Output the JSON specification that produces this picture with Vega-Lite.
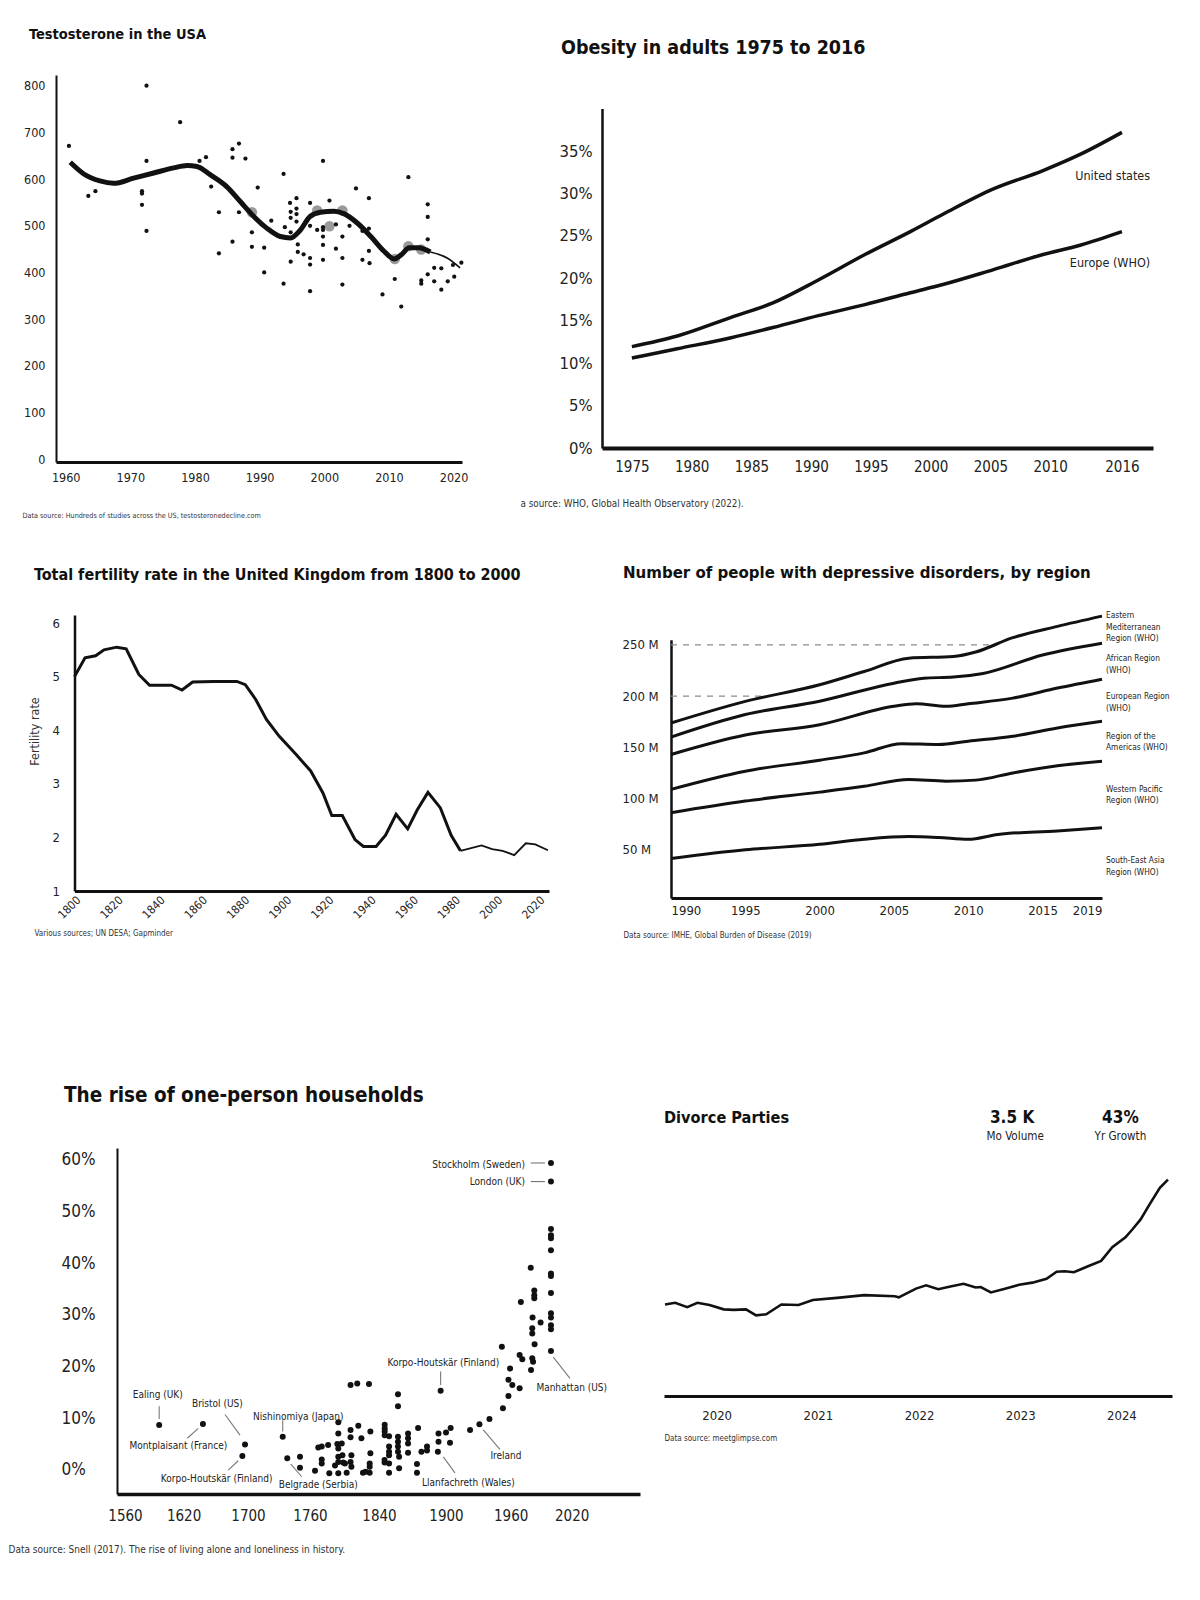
{
"$schema": "https://vega.github.io/schema/vega-lite/v6.json",
"padding": 0,
"background": "white",
"spacing": 0,
"bounds": "flush",
"align": "none",
"columns": 2,
"config": {
  "font": "Liberation Sans Narrow, DejaVu Sans Condensed, Roboto, sans-serif",
  "view": {"stroke": null},
  "axis": {"ticks": false, "grid": false, "domainColor": "#111", "labelColor": "#222", "labelFlush": false, "titleColor": "#333", "titleFontWeight": "normal"},
  "title": {"anchor": "start", "frame": "group", "fontWeight": "bold", "color": "#111"},
  "text": {"color": "#222"}
},
"datasets": {
  "t_pts": [
    {"x":1960.5,"y":671},{"x":1972.5,"y":800},{"x":1977.7,"y":722},{"x":1963.5,"y":564},{"x":1964.6,"y":574},{"x":1971.8,"y":574},{"x":1971.8,"y":569},{"x":1971.8,"y":545},{"x":1972.5,"y":489},{"x":1972.5,"y":639},{"x":1980.7,"y":639},{"x":1981.7,"y":647},{"x":1982.5,"y":584},{"x":1983.7,"y":529},{"x":1983.7,"y":441},{"x":1985.8,"y":664},{"x":1985.8,"y":646},{"x":1986.8,"y":676},{"x":1987.8,"y":644},{"x":1986.8,"y":529},{"x":1985.8,"y":466},{"x":1988.8,"y":486},{"x":1988.8,"y":455},{"x":1989.7,"y":582},{"x":1990.7,"y":453},{"x":1990.7,"y":400},{"x":1991.8,"y":511},{"x":1993.7,"y":611},{"x":1993.9,"y":497},{"x":1993.7,"y":376},{"x":1994.7,"y":549},{"x":1994.8,"y":530},{"x":1994.8,"y":517},{"x":1994.8,"y":486},{"x":1994.8,"y":423},{"x":1995.7,"y":559},{"x":1995.7,"y":537},{"x":1995.7,"y":525},{"x":1995.7,"y":509},{"x":1995.9,"y":460},{"x":1995.9,"y":444},{"x":1996.8,"y":439},{"x":1997.8,"y":549},{"x":1997.8,"y":500},{"x":1997.8,"y":431},{"x":1997.8,"y":417},{"x":1997.8,"y":360},{"x":1998.9,"y":491},{"x":1999.8,"y":639},{"x":1999.8,"y":497},{"x":1999.8,"y":491},{"x":1999.8,"y":477},{"x":1999.8,"y":459},{"x":1999.8,"y":427},{"x":2000.8,"y":554},{"x":2001.8,"y":503},{"x":2001.8,"y":451},{"x":2002.8,"y":477},{"x":2002.8,"y":431},{"x":2002.8,"y":374},{"x":2003.9,"y":500},{"x":2004.9,"y":580},{"x":2005.9,"y":489},{"x":2005.9,"y":427},{"x":2006.9,"y":559},{"x":2006.9,"y":494},{"x":2006.9,"y":446},{"x":2007.0,"y":420},{"x":2009.0,"y":353},{"x":2010.9,"y":386},{"x":2011.9,"y":327},{"x":2013.0,"y":604},{"x":2015.0,"y":383},{"x":2015.0,"y":376},{"x":2016.0,"y":546},{"x":2016.0,"y":519},{"x":2016.0,"y":471},{"x":2016.0,"y":396},{"x":2017.0,"y":410},{"x":2017.0,"y":381},{"x":2018.1,"y":409},{"x":2018.1,"y":363},{"x":2019.1,"y":381},{"x":2019.9,"y":416},{"x":2020.1,"y":391},{"x":2021.2,"y":421}
  ],
  "t_big": [
    {"x":1988.8,"y":529},{"x":1998.9,"y":533},{"x":2000.8,"y":499},{"x":2002.8,"y":533},{"x":2010.9,"y":429},{"x":2013.0,"y":456},{"x":2015.0,"y":449}
  ],
  "t_line": [
    {"x":1960.7,"y":636},{"x":1962.8,"y":611},{"x":1965.3,"y":596},{"x":1967.4,"y":591},{"x":1970.5,"y":602},{"x":1973.6,"y":613},{"x":1976.7,"y":624},{"x":1978.8,"y":629},{"x":1980.3,"y":627},{"x":1982.4,"y":609},{"x":1984.9,"y":584},{"x":1987.0,"y":552},{"x":1989.1,"y":520},{"x":1991.1,"y":495},{"x":1993.2,"y":477},{"x":1994.8,"y":474},{"x":1996.3,"y":491},{"x":1997.8,"y":520},{"x":1999.4,"y":529},{"x":2001.5,"y":531},{"x":2003.0,"y":526},{"x":2005.1,"y":506},{"x":2007.2,"y":477},{"x":2009.2,"y":446},{"x":2010.8,"y":429},{"x":2012.0,"y":439},{"x":2013.1,"y":453},{"x":2014.6,"y":453},{"x":2016.4,"y":444}
  ],
  "t_tail": [
    {"x":2016.4,"y":444},{"x":2019.0,"y":431},{"x":2021.0,"y":410}
  ],
  "o_grid": [{"y":5},{"y":10},{"y":15},{"y":20},{"y":25},{"y":30},{"y":35}],
  "o_lines": [
    {"s":"United states","x":1975,"y":11.95},{"s":"United states","x":1978.8,"y":13.2},{"s":"United states","x":1983.3,"y":15.4},{"s":"United states","x":1986.8,"y":17.1},{"s":"United states","x":1990.6,"y":19.8},{"s":"United states","x":1994.5,"y":22.8},{"s":"United states","x":1998.3,"y":25.5},{"s":"United states","x":2001.1,"y":27.6},{"s":"United states","x":2005.2,"y":30.5},{"s":"United states","x":2009.4,"y":32.7},{"s":"United states","x":2012.5,"y":34.6},{"s":"United states","x":2016,"y":37.2},
    {"s":"Europe (WHO)","x":1975,"y":10.6},{"s":"Europe (WHO)","x":1978.8,"y":11.7},{"s":"Europe (WHO)","x":1983.3,"y":13.0},{"s":"Europe (WHO)","x":1986.8,"y":14.2},{"s":"Europe (WHO)","x":1990.6,"y":15.6},{"s":"Europe (WHO)","x":1994.5,"y":16.9},{"s":"Europe (WHO)","x":1998.3,"y":18.3},{"s":"Europe (WHO)","x":2001.1,"y":19.3},{"s":"Europe (WHO)","x":2005.2,"y":21.0},{"s":"Europe (WHO)","x":2009.4,"y":22.8},{"s":"Europe (WHO)","x":2012.5,"y":23.9},{"s":"Europe (WHO)","x":2016,"y":25.5}
  ],
  "o_labels": [{"t":"United states","x":2018.36,"y":32.0},{"t":"Europe (WHO)","x":2018.36,"y":21.8}],
  "f_grid": [{"y":2},{"y":3},{"y":4},{"y":5},{"y":6}],
  "f_main": [
    {"x":1800,"y":5.0},{"x":1805,"y":5.35},{"x":1810,"y":5.39},{"x":1814,"y":5.5},{"x":1820,"y":5.55},{"x":1824.5,"y":5.52},{"x":1830.5,"y":5.04},{"x":1835.6,"y":4.84},{"x":1846,"y":4.84},{"x":1851,"y":4.75},{"x":1856,"y":4.9},{"x":1866,"y":4.91},{"x":1877,"y":4.91},{"x":1881,"y":4.85},{"x":1886,"y":4.57},{"x":1891,"y":4.2},{"x":1897,"y":3.89},{"x":1905,"y":3.55},{"x":1912,"y":3.24},{"x":1917.8,"y":2.83},{"x":1922,"y":2.41},{"x":1927,"y":2.41},{"x":1933,"y":1.96},{"x":1937,"y":1.83},{"x":1943,"y":1.83},{"x":1947.5,"y":2.04},{"x":1952.5,"y":2.43},{"x":1958,"y":2.16},{"x":1962.5,"y":2.51},{"x":1967.6,"y":2.84},{"x":1973.5,"y":2.55},{"x":1978.6,"y":2.04},{"x":1983,"y":1.75}
  ],
  "f_tail": [
    {"x":1983,"y":1.75},{"x":1993,"y":1.85},{"x":1998,"y":1.78},{"x":2003,"y":1.75},{"x":2008.5,"y":1.67},{"x":2014,"y":1.89},{"x":2018.5,"y":1.87},{"x":2024.5,"y":1.76}
  ],
  "d_grid": [{"y":200,"x":1990,"x2":1996.3},{"y":250,"x":1990,"x2":2011.7}],
  "d_lines": [
    {"r":"EMR","x":1990,"y":173.7},{"r":"EMR","x":1995,"y":194.8},{"r":"EMR","x":2000,"y":211},{"r":"EMR","x":2003,"y":224},{"r":"EMR","x":2006,"y":237},{"r":"EMR","x":2009,"y":238.6},{"r":"EMR","x":2010.5,"y":243},{"r":"EMR","x":2013,"y":257},{"r":"EMR","x":2016,"y":268},{"r":"EMR","x":2019,"y":278},
    {"r":"AFR","x":1990,"y":160},{"r":"AFR","x":1995,"y":182},{"r":"AFR","x":2000,"y":195},{"r":"AFR","x":2005,"y":212.6},{"r":"AFR","x":2007,"y":217.5},{"r":"AFR","x":2009,"y":218.5},{"r":"AFR","x":2011,"y":222},{"r":"AFR","x":2015,"y":240},{"r":"AFR","x":2019,"y":251.5},
    {"r":"EUR","x":1990,"y":143},{"r":"EUR","x":1995,"y":162},{"r":"EUR","x":2000,"y":172},{"r":"EUR","x":2005,"y":190},{"r":"EUR","x":2006.5,"y":192.5},{"r":"EUR","x":2008.5,"y":190},{"r":"EUR","x":2010,"y":192.5},{"r":"EUR","x":2013,"y":198},{"r":"EUR","x":2016,"y":207.8},{"r":"EUR","x":2019,"y":216.5},
    {"r":"AMR","x":1990,"y":109},{"r":"AMR","x":1995,"y":126.7},{"r":"AMR","x":2000,"y":137.4},{"r":"AMR","x":2003,"y":144.6},{"r":"AMR","x":2005.5,"y":153.6},{"r":"AMR","x":2008,"y":152.7},{"r":"AMR","x":2010,"y":156},{"r":"AMR","x":2013,"y":160.8},{"r":"AMR","x":2016,"y":168.9},{"r":"AMR","x":2019,"y":175.4},
    {"r":"WPR","x":1990,"y":86.2},{"r":"WPR","x":1995,"y":97.6},{"r":"WPR","x":2000,"y":106.3},{"r":"WPR","x":2003,"y":112},{"r":"WPR","x":2006,"y":118.6},{"r":"WPR","x":2008.5,"y":117},{"r":"WPR","x":2010.5,"y":118},{"r":"WPR","x":2013,"y":125},{"r":"WPR","x":2016,"y":132},{"r":"WPR","x":2019,"y":136.5},
    {"r":"SEAR","x":1990,"y":41.5},{"r":"SEAR","x":1995,"y":50},{"r":"SEAR","x":2000,"y":55.4},{"r":"SEAR","x":2003,"y":60.3},{"r":"SEAR","x":2006,"y":62.9},{"r":"SEAR","x":2008,"y":62},{"r":"SEAR","x":2010,"y":60.3},{"r":"SEAR","x":2012,"y":65},{"r":"SEAR","x":2016,"y":68.4},{"r":"SEAR","x":2019,"y":71.6}
  ],
  "d_labels": [
    {"t":"Eastern\nMediterranean\nRegion (WHO)","x":2019,"y":278},
    {"t":"African Region\n(WHO)","x":2019,"y":236},
    {"t":"European Region\n(WHO)","x":2019,"y":199},
    {"t":"Region of the\nAmericas (WHO)","x":2019,"y":160.5},
    {"t":"Western Pacific\nRegion (WHO)","x":2019,"y":108.7},
    {"t":"South-East Asia\nRegion (WHO)","x":2019,"y":39}
  ],
  "h_pts": [
    {"x":1595,"y":8.66},{"x":1644,"y":8.85},{"x":1696.3,"y":4.9},{"x":1693,"y":2.65},{"x":1733.6,"y":6.4},{"x":1738,"y":2.2},{"x":1750.3,"y":2.5},{"x":1750.3,"y":0.4},{"x":1765.8,"y":-0.2},{"x":1769.6,"y":4.3},{"x":1773.6,"y":4.5},{"x":1781,"y":4.8},{"x":1773.6,"y":2.0},{"x":1773.6,"y":1.2},{"x":1782.4,"y":-0.7},{"x":1792.8,"y":9.2},{"x":1792.8,"y":7.0},{"x":1791.7,"y":5.0},{"x":1796.8,"y":5.1},{"x":1792.8,"y":4.1},{"x":1792.8,"y":2.5},{"x":1792.8,"y":1.5},{"x":1789,"y":0.8},{"x":1800.5,"y":1.2},{"x":1792.8,"y":-0.7},{"x":1802.5,"y":-0.6},{"x":1807,"y":16.4},{"x":1814.8,"y":16.7},{"x":1828.4,"y":16.6},{"x":1807,"y":7.7},{"x":1807,"y":6.3},{"x":1807,"y":1.5},{"x":1816,"y":8.5},{"x":1797.6,"y":2.8},{"x":1798.5,"y":1.4},{"x":1808,"y":2.8},{"x":1808,"y":0.6},{"x":1819.6,"y":6.1},{"x":1821.4,"y":-0.6},{"x":1824.6,"y":-0.4},{"x":1829.2,"y":-0.6},{"x":1829.2,"y":1.2},{"x":1829.2,"y":0.6},{"x":1830,"y":7.4},{"x":1830,"y":3.2},{"x":1845.1,"y":8.7},{"x":1845.1,"y":8.0},{"x":1845.1,"y":7.4},{"x":1845.1,"y":6.7},{"x":1849,"y":6.5},{"x":1849,"y":4.5},{"x":1849,"y":3.5},{"x":1849,"y":2.8},{"x":1845,"y":1.9},{"x":1845,"y":1.4},{"x":1849,"y":1.2},{"x":1849,"y":-0.6},{"x":1857,"y":14.6},{"x":1857,"y":12.3},{"x":1857,"y":6.4},{"x":1857,"y":5.4},{"x":1857,"y":4.5},{"x":1857,"y":3.5},{"x":1858,"y":2.5},{"x":1858,"y":0.3},{"x":1866,"y":7.0},{"x":1866,"y":6.1},{"x":1866,"y":5.1},{"x":1866,"y":3.3},{"x":1875,"y":8.1},{"x":1874,"y":1.1},{"x":1874,"y":-0.6},{"x":1878,"y":3.5},{"x":1883,"y":4.5},{"x":1883,"y":3.7},{"x":1893.3,"y":7.0},{"x":1893.3,"y":5.4},{"x":1892.7,"y":3.5},{"x":1895.2,"y":15.3},{"x":1900,"y":7.2},{"x":1904.3,"y":8.1},{"x":1903.7,"y":5.2},{"x":1922.3,"y":7.7},{"x":1931,"y":8.8},{"x":1940.3,"y":9.8},{"x":1952.8,"y":11.9},{"x":1951.8,"y":23.8},{"x":1957.9,"y":14.3},{"x":1959.4,"y":19.6},{"x":1957.9,"y":17.4},{"x":1961.6,"y":16.4},{"x":1968.8,"y":15.8},{"x":1968.8,"y":22.2},{"x":1971.4,"y":21.4},{"x":1970,"y":32.5},{"x":1979.7,"y":39.1},{"x":1980,"y":19.3},{"x":1981.5,"y":29.5},{"x":1981.2,"y":27.4},{"x":1981.2,"y":26.4},{"x":1983.5,"y":24.3},{"x":1981.2,"y":21.6},{"x":1982,"y":20.9},{"x":1983.2,"y":34.7},{"x":1983.2,"y":33.8},{"x":1983.2,"y":33.2},{"x":1989.4,"y":28.5},{"x":1999.6,"y":59.4},{"x":1999.6,"y":55.8},{"x":1999.6,"y":46.6},{"x":1999.6,"y":45.4},{"x":1999.6,"y":44.8},{"x":1999.6,"y":42.5},{"x":1999.6,"y":38.0},{"x":1999.6,"y":37.5},{"x":1999.6,"y":34.2},{"x":1999.6,"y":30.3},{"x":1999.6,"y":29.5},{"x":1999.6,"y":28.0},{"x":1999.6,"y":27.2},{"x":1999.6,"y":23.0}
  ],
  "h_labels": [
    {"t":"Ealing (UK)","x":1593.5,"y":14.5},{"t":"Montplaisant (France)","x":1614.6,"y":4.65},{"t":"Bristol (US)","x":1661.9,"y":12.7},{"t":"Korpo-Houtskär (Finland)","x":1661.1,"y":-1.8},{"t":"Nishinomiya (Japan)","x":1748.7,"y":10.3},{"t":"Belgrade (Serbia)","x":1769.6,"y":-3.0},{"t":"Korpo-Houtskär (Finland)","x":1897.6,"y":20.6},{"t":"Llanfachreth (Wales)","x":1920.7,"y":-2.5},{"t":"Ireland","x":1955.6,"y":2.65},{"t":"Manhattan (US)","x":2020,"y":15.8}
  ],
  "h_labels_r": [
    {"t":"Stockholm (Sweden)","x":1974.1,"y":59.1},{"t":"London (UK)","x":1974.1,"y":55.7}
  ],
  "h_leaders": [
    {"x":1595,"y":12.3,"x2":1595,"y2":9.8},{"x":1624.6,"y":6.1,"x2":1638.3,"y2":8.0},{"x":1671.4,"y":10.7,"x2":1690.1,"y2":6.7},{"x":1675.5,"y":-0.06,"x2":1687.9,"y2":1.74},{"x":1733.6,"y":9.6,"x2":1733.6,"y2":7.4},{"x":1741.4,"y":1.1,"x2":1752,"y2":-1.36},{"x":1895.2,"y":19.0,"x2":1895.2,"y2":16.4},{"x":1897.6,"y":2.5,"x2":1908.3,"y2":-0.6},{"x":1934.6,"y":7.7,"x2":1950,"y2":3.95},{"x":2001.9,"y":21.8,"x2":2018.3,"y2":17.7},{"x":1979.7,"y":59.4,"x2":1993.7,"y2":59.4},{"x":1979.7,"y":55.8,"x2":1993.7,"y2":55.8}
  ],
  "v_grid": [{"y":1},{"y":2},{"y":3},{"y":4}],
  "v_line": [
    {"x":2019.49,"y":1.68},{"x":2019.59,"y":1.71},{"x":2019.71,"y":1.63},{"x":2019.81,"y":1.71},{"x":2019.93,"y":1.67},{"x":2020.07,"y":1.59},{"x":2020.17,"y":1.58},{"x":2020.29,"y":1.59},{"x":2020.39,"y":1.48},{"x":2020.49,"y":1.50},{"x":2020.64,"y":1.68},{"x":2020.81,"y":1.67},{"x":2020.95,"y":1.76},{"x":2021.19,"y":1.80},{"x":2021.46,"y":1.85},{"x":2021.76,"y":1.83},{"x":2021.80,"y":1.81},{"x":2021.97,"y":1.97},{"x":2022.07,"y":2.03},{"x":2022.19,"y":1.96},{"x":2022.31,"y":2.01},{"x":2022.44,"y":2.06},{"x":2022.56,"y":1.99},{"x":2022.61,"y":2.0},{"x":2022.71,"y":1.90},{"x":2022.85,"y":1.97},{"x":2022.99,"y":2.04},{"x":2023.12,"y":2.08},{"x":2023.26,"y":2.15},{"x":2023.36,"y":2.28},{"x":2023.44,"y":2.29},{"x":2023.53,"y":2.27},{"x":2023.67,"y":2.38},{"x":2023.80,"y":2.48},{"x":2023.91,"y":2.73},{"x":2024.04,"y":2.91},{"x":2024.11,"y":3.06},{"x":2024.19,"y":3.24},{"x":2024.28,"y":3.52},{"x":2024.38,"y":3.82},{"x":2024.46,"y":3.97}
  ],
  "v_kpi": [{"t":"3.5 K","x":2022.92,"y":5.1},{"t":"43%","x":2023.99,"y":5.1}],
  "v_kpi_sub": [{"t":"Mo Volume","x":2022.95,"y":4.75},{"t":"Yr Growth","x":2023.99,"y":4.75}]
},
"concat": [
  {
    "width": 640, "height": 530,
    "title": {"text": "Testosterone in the USA", "fontSize": 14.5, "dx": 29, "offset": -42.4},
    "encoding": {
      "x": {"field": "x", "type": "quantitative",
        "scale": {"domain": [1958.5, 2021.3], "range": [56, 462], "nice": false, "zero": false},
        "axis": {"values": [1960,1970,1980,1990,2000,2010,2020], "format": "d", "labelFontSize": 12.5, "labelPadding": 9, "offset": -68, "domainWidth": 3,
          "title": "Data source: Hundreds of studies across the US, testosteronedecline.com", "titleFontSize": 7.2, "titleX": 22, "titleY": 53, "titleAlign": "left", "titleBaseline": "middle"}},
      "y": {"field": "y", "type": "quantitative",
        "scale": {"domain": [-6, 823], "range": [462, 75], "nice": false, "zero": false},
        "axis": {"values": [0,100,200,300,400,500,600,700,800], "labelFontSize": 12.5, "labelPadding": 11, "offset": -56, "domainWidth": 2, "title": null}}
    },
    "layer": [
      {"data": {"name": "t_big"}, "mark": {"type": "circle", "size": 110, "color": "#9a9a9a", "opacity": 1}},
      {"data": {"name": "t_line"}, "mark": {"type": "line", "color": "#111", "strokeWidth": 5, "interpolate": "monotone"}},
      {"data": {"name": "t_tail"}, "mark": {"type": "line", "color": "#111", "strokeWidth": 1.6, "interpolate": "monotone"}},
      {"data": {"name": "t_pts"}, "mark": {"type": "circle", "size": 18, "color": "#111", "opacity": 1}}
    ]
  },
  {
    "width": 560, "height": 530,
    "title": {"text": "Obesity in adults 1975 to 2016", "fontSize": 19.5, "dx": -79, "offset": -58.6},
    "encoding": {
      "x": {"field": "x", "type": "quantitative",
        "scale": {"domain": [1972.5, 2018.6], "range": [-38, 513], "nice": false, "zero": false},
        "axis": {"values": [1975,1980,1985,1990,1995,2000,2005,2010,2016], "format": "d", "labelFontSize": 15, "labelPadding": 11, "offset": -82, "domainWidth": 4,
          "title": "a source: WHO, Global Health Observatory (2022).", "titleFontSize": 9.8, "titleX": -120, "titleY": 55, "titleAlign": "left", "titleBaseline": "middle"}},
      "y": {"field": "y", "type": "quantitative",
        "scale": {"domain": [0, 40], "range": [448, 108.6], "nice": false, "zero": false},
        "axis": {"values": [0,5,10,15,20,25,30,35], "labelExpr": "datum.value + '%'", "labelFontSize": 16.5, "labelPadding": 10, "offset": 38, "domainWidth": 2.5, "title": null}}
    },
    "layer": [
      {"data": {"name": "o_grid"}, "mark": {"type": "rule", "strokeDash": [6, 6], "color": "#8a8a8a", "strokeWidth": 1.5},
        "encoding": {"x": {"datum": 1972.5}, "x2": {"datum": 2018.6}, "y": {"field": "y", "type": "quantitative"}}},
      {"data": {"name": "o_lines"}, "mark": {"type": "line", "color": "#111", "strokeWidth": 3.5, "interpolate": "monotone"},
        "encoding": {"detail": {"field": "s"}}},
      {"data": {"name": "o_labels"}, "mark": {"type": "text", "align": "right", "baseline": "middle", "fontSize": 12.5},
        "encoding": {"text": {"field": "t"}}}
    ]
  },
  {
    "width": 640, "height": 470,
    "title": {"text": "Total fertility rate in the United Kingdom from 1800 to 2000", "fontSize": 16, "dx": 34, "offset": -53},
    "encoding": {
      "x": {"field": "x", "type": "quantitative",
        "scale": {"domain": [1800, 2025], "range": [74.5, 549], "nice": false, "zero": false},
        "axis": {"values": [1800,1820,1840,1860,1880,1900,1920,1940,1960,1980,2000,2020], "format": "d", "labelAngle": -45, "labelFontSize": 11.5, "labelPadding": 3, "offset": -109, "domainWidth": 3,
          "title": "Various sources; UN DESA; Gapminder", "titleFontSize": 8, "titleX": 34, "titleY": 42, "titleAlign": "left", "titleBaseline": "middle"}},
      "y": {"field": "y", "type": "quantitative",
        "scale": {"domain": [1, 6.15], "range": [361, 85], "nice": false, "zero": false},
        "axis": {"values": [1,2,3,4,5,6], "labelFontSize": 13, "labelPadding": 15, "offset": -74.5, "domainWidth": 2.5,
          "title": "Fertility rate", "titleFontSize": 12.5, "titleX": -40.5, "titleY": 201, "titleAlign": "center", "titleBaseline": "middle", "titleAngle": 270}}
    },
    "layer": [
      {"data": {"name": "f_grid"}, "mark": {"type": "rule", "strokeDash": [6, 6], "color": "#8a8a8a", "strokeWidth": 1.4},
        "encoding": {"x": {"datum": 1800}, "x2": {"datum": 2025}, "y": {"field": "y", "type": "quantitative"}}},
      {"data": {"name": "f_main"}, "mark": {"type": "line", "color": "#111", "strokeWidth": 3}},
      {"data": {"name": "f_tail"}, "mark": {"type": "line", "color": "#111", "strokeWidth": 1.8}}
    ]
  },
  {
    "width": 560, "height": 470,
    "title": {"text": "Number of people with depressive disorders, by region", "fontSize": 16.7, "dx": -17, "offset": -51.3},
    "encoding": {
      "x": {"field": "x", "type": "quantitative",
        "scale": {"domain": [1990, 2019], "range": [31, 462], "nice": false, "zero": false},
        "axis": {"values": [1990,1995,2000,2005,2010,2015,2019], "format": "d", "labelFlush": true, "labelFontSize": 13, "labelPadding": 6, "offset": -102, "domainWidth": 3,
          "title": "Data source: IMHE, Global Burden of Disease (2019)", "titleFontSize": 8, "titleX": -17, "titleY": 37, "titleAlign": "left", "titleBaseline": "middle"}},
      "y": {"field": "y", "type": "quantitative",
        "scale": {"domain": [3, 255], "range": [368, 109.7], "nice": false, "zero": false},
        "axis": {"values": [50,100,150,200,250], "labelExpr": "datum.value + ' M'", "labelAlign": "left", "labelFontSize": 13, "labelPadding": 49, "offset": -31, "domainWidth": 2.5, "title": null}}
    },
    "layer": [
      {"data": {"name": "d_grid"}, "mark": {"type": "rule", "strokeDash": [6, 6], "color": "#8a8a8a", "strokeWidth": 1.4},
        "encoding": {"x2": {"field": "x2"}}},
      {"data": {"name": "d_lines"}, "mark": {"type": "line", "color": "#111", "strokeWidth": 3, "interpolate": "monotone"},
        "encoding": {"detail": {"field": "r"}}},
      {"data": {"name": "d_labels"}, "mark": {"type": "text", "align": "left", "baseline": "middle", "dx": 4, "fontSize": 8.3, "lineHeight": 11.5, "lineBreak": "\n"},
        "encoding": {"text": {"field": "t"}}}
    ]
  },
  {
    "width": 640, "height": 600,
    "title": {"text": "The rise of one-person households", "fontSize": 20.5, "dx": 64, "offset": -106},
    "encoding": {
      "x": {"field": "x", "type": "quantitative",
        "scale": {"type": "linear", "domain": [1551.8,1560,1620,1700,1760,1840,1900,1960,2020,2087], "range": [117,125,183.6,248,310,379,446,510.7,571.7,640], "nice": false, "zero": false},
        "axis": {"values": [1560,1620,1700,1760,1840,1900,1960,2020], "format": "d", "labelFontSize": 15, "labelPadding": 14, "offset": -106, "domainWidth": 3.5,
          "title": "Data source: Snell (2017). The rise of living alone and loneliness in history.", "titleFontSize": 10, "titleX": 8, "titleY": 55, "titleAlign": "left", "titleBaseline": "middle"}},
      "y": {"field": "y", "type": "quantitative",
        "scale": {"domain": [-4.7, 62.3], "range": [494, 148], "nice": false, "zero": false},
        "axis": {"values": [0,10,20,30,40,50,60], "labelExpr": "datum.value + '%'", "labelAlign": "left", "labelFontSize": 17, "labelPadding": 56, "offset": -117, "domainWidth": 2, "title": null}}
    },
    "layer": [
      {"data": {"name": "h_leaders"}, "mark": {"type": "rule", "color": "#777", "strokeWidth": 1.1},
        "encoding": {"x2": {"field": "x2"}, "y2": {"field": "y2"}}},
      {"data": {"name": "h_pts"}, "mark": {"type": "circle", "size": 36, "color": "#111", "opacity": 1}},
      {"data": {"name": "h_labels"}, "mark": {"type": "text", "align": "center", "baseline": "middle", "fontSize": 10},
        "encoding": {"text": {"field": "t"}}},
      {"data": {"name": "h_labels_r"}, "mark": {"type": "text", "align": "right", "baseline": "middle", "fontSize": 10},
        "encoding": {"text": {"field": "t"}}}
    ]
  },
  {
    "width": 560, "height": 600,
    "title": {"text": "Divorce Parties", "fontSize": 16.2, "dx": 24, "offset": -126},
    "encoding": {
      "x": {"field": "x", "type": "quantitative",
        "scale": {"domain": [2019.48, 2024.5], "range": [24, 532], "nice": false, "zero": false},
        "axis": {"values": [2020,2021,2022,2023,2024], "format": "d", "labelFontSize": 13, "labelPadding": 13, "offset": -204, "domainWidth": 3,
          "title": "Data source: meetglimpse.com", "titleFontSize": 8, "titleX": 24, "titleY": 42, "titleAlign": "left", "titleBaseline": "middle"}},
      "y": {"field": "y", "type": "quantitative",
        "scale": {"domain": [0, 4], "range": [396, 178], "nice": false, "zero": false},
        "axis": null}
    },
    "layer": [
      {"data": {"name": "v_grid"}, "mark": {"type": "rule", "strokeDash": [6, 6], "color": "#8a8a8a", "strokeWidth": 1.4},
        "encoding": {"x": {"datum": 2019.48}, "x2": {"datum": 2024.5}, "y": {"field": "y", "type": "quantitative"}}},
      {"data": {"name": "v_line"}, "mark": {"type": "line", "color": "#111", "strokeWidth": 2.6}},
      {"data": {"name": "v_kpi"}, "mark": {"type": "text", "align": "center", "baseline": "middle", "fontSize": 17, "fontWeight": "bold", "color": "#111"},
        "encoding": {"text": {"field": "t"}}},
      {"data": {"name": "v_kpi_sub"}, "mark": {"type": "text", "align": "center", "baseline": "middle", "fontSize": 11.6},
        "encoding": {"text": {"field": "t"}}}
    ]
  }
]
}
